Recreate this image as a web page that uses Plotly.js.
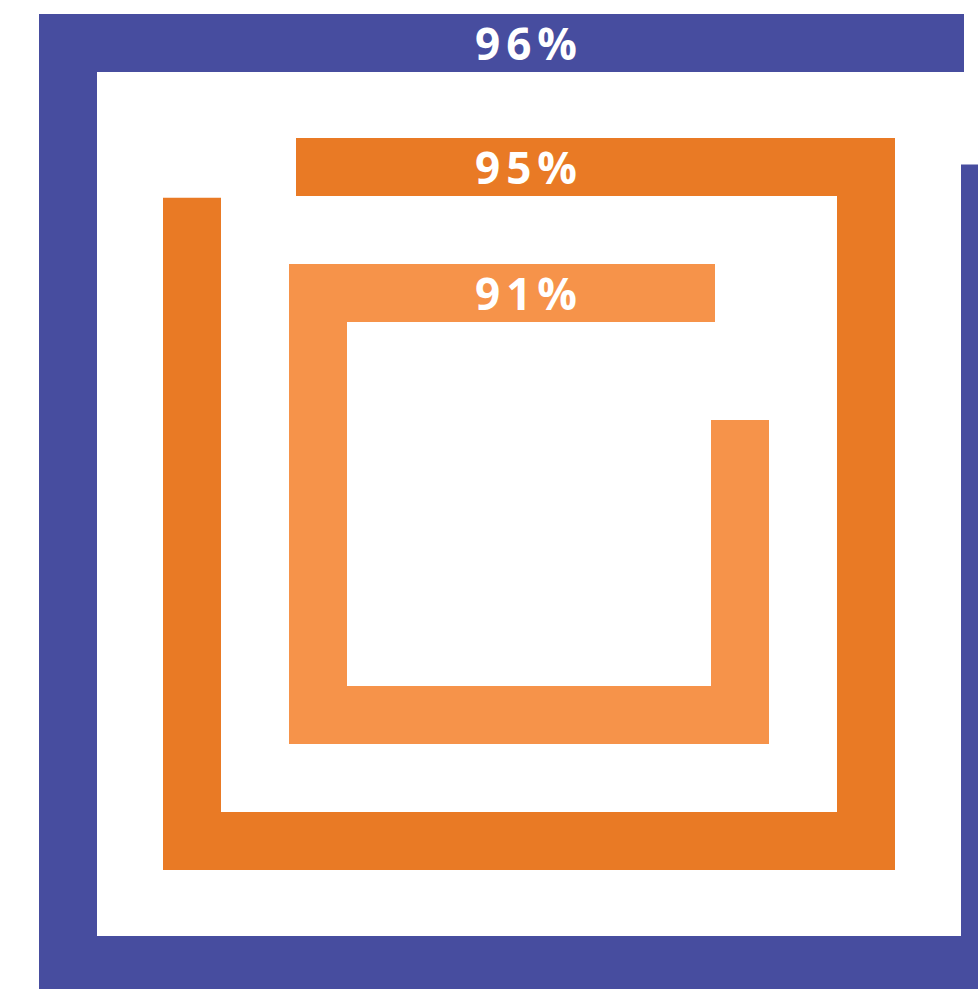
<!DOCTYPE html>
<html>
<head>
<meta charset="utf-8">
<script src="https://cdn.plot.ly/plotly-3.0.1.min.js"></script>
<style>
  html, body { margin: 0; padding: 0; background: #ffffff; }
  #chart { width: 978px; height: 989px; }
  .annotation-text { letter-spacing: 6px; }
</style>
</head>
<body>
<div id="chart"></div>
<script>
// ---- data ----
const trackNames = ["Outer", "Middle", "Inner"];
const values = [96, 95, 91];
const labels = values.map(v => v + "%");

// ---- layout / style constants (pixel space) ----
const W = 978, H = 989;
const CX = 529, CY = 504;
const THICK = 58;
const halfSizes = [461, 337, 211];          // centerline half-size of each square track
const anchorX = [964, 296, 715];            // x where the top-bar end of the track sits
const fillDir = [-1, 1, -1];                // -1: track runs counter-clockwise from anchor, 1: clockwise
const colors = ["#474D9F", "#E97A25", "#F6934A"];

function pointAt(s, h) {
  const side = 2 * h, P = 4 * side;
  s = ((s % P) + P) % P;
  const x0 = CX - h, y0 = CY - h, x1 = CX + h, y1 = CY + h;
  if (s <= side) return [x0 + s, y0];
  if (s <= 2 * side) return [x1, y0 + (s - side)];
  if (s <= 3 * side) return [x1 - (s - 2 * side), y1];
  return [x0, y1 - (s - 3 * side)];
}

function trackPath(value, h, ax, dir) {
  const side = 2 * h, P = 4 * side;
  const L = value / 100 * P;
  const sAnchor = ax - (CX - h);
  let sStart = dir > 0 ? sAnchor : sAnchor - L;
  const sEnd = sStart + L;
  const xs = [], ys = [];
  let p = pointAt(sStart, h); xs.push(p[0]); ys.push(p[1]);
  let k = Math.floor(sStart / side) + 1;
  while (k * side < sEnd) {
    p = pointAt(k * side, h); xs.push(p[0]); ys.push(p[1]);
    k++;
  }
  p = pointAt(sEnd, h); xs.push(p[0]); ys.push(p[1]);
  return {xs, ys};
}

const traces = values.map((v, i) => {
  const path = trackPath(v, halfSizes[i], anchorX[i], fillDir[i]);
  return {
    type: "scatter", mode: "lines", name: trackNames[i],
    x: path.xs, y: path.ys,
    line: {color: colors[i], width: THICK, simplify: false},
    hoverinfo: "skip", showlegend: false
  };
});

const annotations = values.map((v, i) => ({
  x: CX, y: CY - halfSizes[i], xref: "x", yref: "y",
  text: "<b>" + labels[i] + "</b>", showarrow: false,
  xanchor: "center", yanchor: "middle",
  font: {family: "Open Sans, sans-serif", size: 44, color: "#ffffff"}
}));

const layout = {
  width: W, height: H,
  margin: {l: 0, r: 0, t: 0, b: 0, pad: 0},
  paper_bgcolor: "#ffffff", plot_bgcolor: "#ffffff",
  xaxis: {range: [0, W], visible: false, showgrid: false, zeroline: false, fixedrange: true},
  yaxis: {range: [H, 0], visible: false, showgrid: false, zeroline: false, fixedrange: true},
  annotations: annotations,
  showlegend: false
};

Plotly.newPlot("chart", traces, layout, {staticPlot: true, displayModeBar: false});
</script>
</body>
</html>
